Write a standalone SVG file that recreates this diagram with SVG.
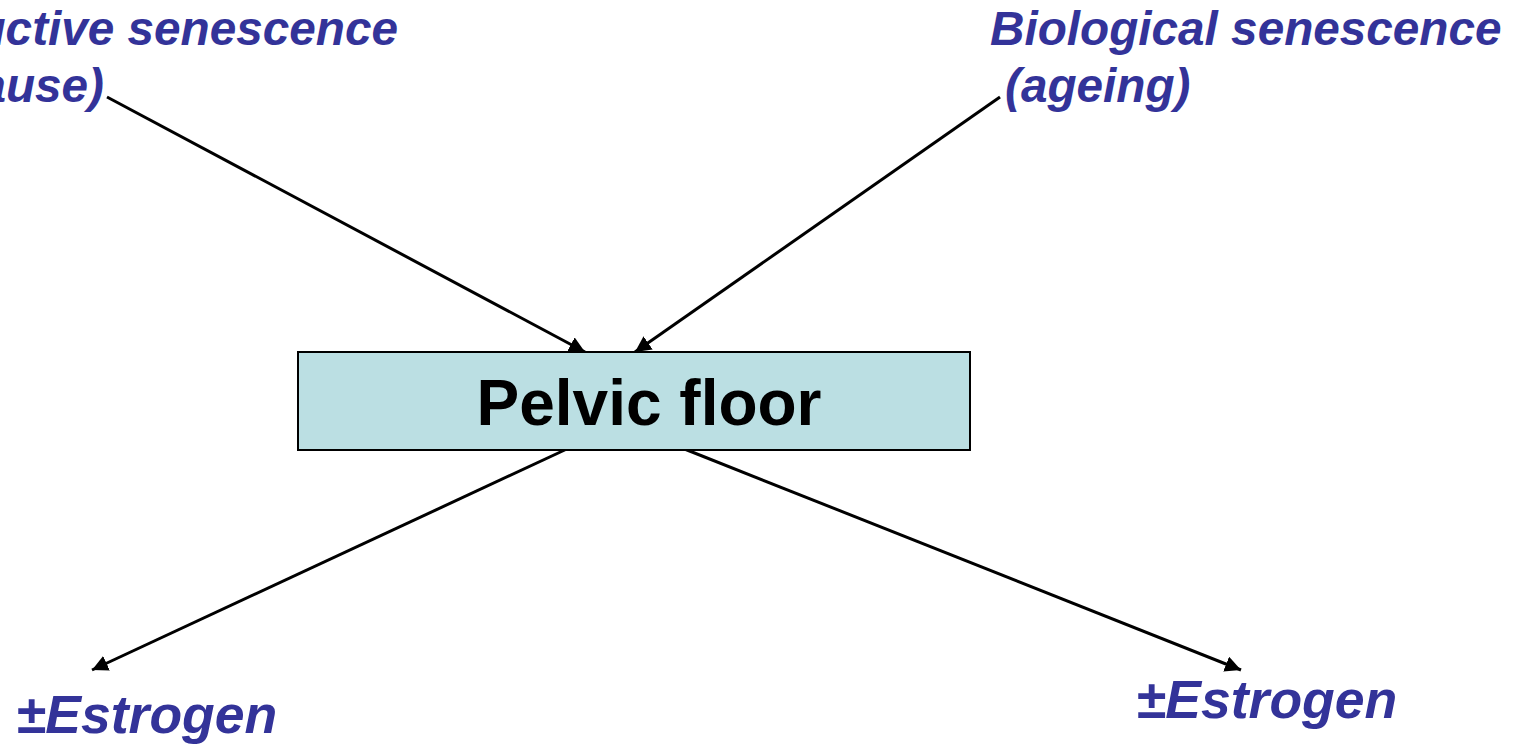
<svg xmlns="http://www.w3.org/2000/svg" width="1522" height="744" viewBox="0 0 1522 744">
<style>
.lbl{font-family:"Liberation Sans",Arial,sans-serif;font-weight:bold;font-style:italic;fill:#333399;}
.conn{stroke:#000;stroke-width:3;fill:none;marker-end:url(#ah);}
</style>
<defs>
<marker id="ah" markerUnits="userSpaceOnUse" markerWidth="18" markerHeight="16" refX="16" refY="8" orient="auto">
<path d="M0,0 L16,8 L0,16 Z" fill="#000"/>
</marker>
</defs>
<rect width="1522" height="744" fill="#fff"/>
<g id="connectors">
<line class="conn" x1="107" y1="97" x2="585" y2="352"/>
<line class="conn" x1="1000" y1="97" x2="635" y2="352"/>
<line class="conn" x1="569" y1="448" x2="92" y2="670"/>
<line class="conn" x1="682" y1="448" x2="1241" y2="670"/>
</g>
<g id="reproductive">
<text class="lbl" x="398" y="45" font-size="47.7" text-anchor="end">uctive senescence</text>
<text class="lbl" x="104" y="102" font-size="47.7" text-anchor="end">ause)</text>
</g>
<g id="biological">
<text class="lbl" x="990" y="45" font-size="47.7">Biological senescence</text>
<text class="lbl" x="1005" y="102" font-size="47.7">(ageing)</text>
</g>
<g id="pelvic">
<rect x="298" y="352" width="672" height="98" fill="#bbdfe3" stroke="#000" stroke-width="2"/>
<text x="649" y="425" font-size="64" font-family="'Liberation Sans',Arial,sans-serif" font-weight="bold" text-anchor="middle" fill="#000">Pelvic floor</text>
</g>
<g id="estrogen-left">
<text class="lbl" x="16" y="733" font-size="53.5">±Estrogen</text>
</g>
<g id="estrogen-right">
<text class="lbl" x="1136" y="718" font-size="53.5">±Estrogen</text>
</g>
</svg>
